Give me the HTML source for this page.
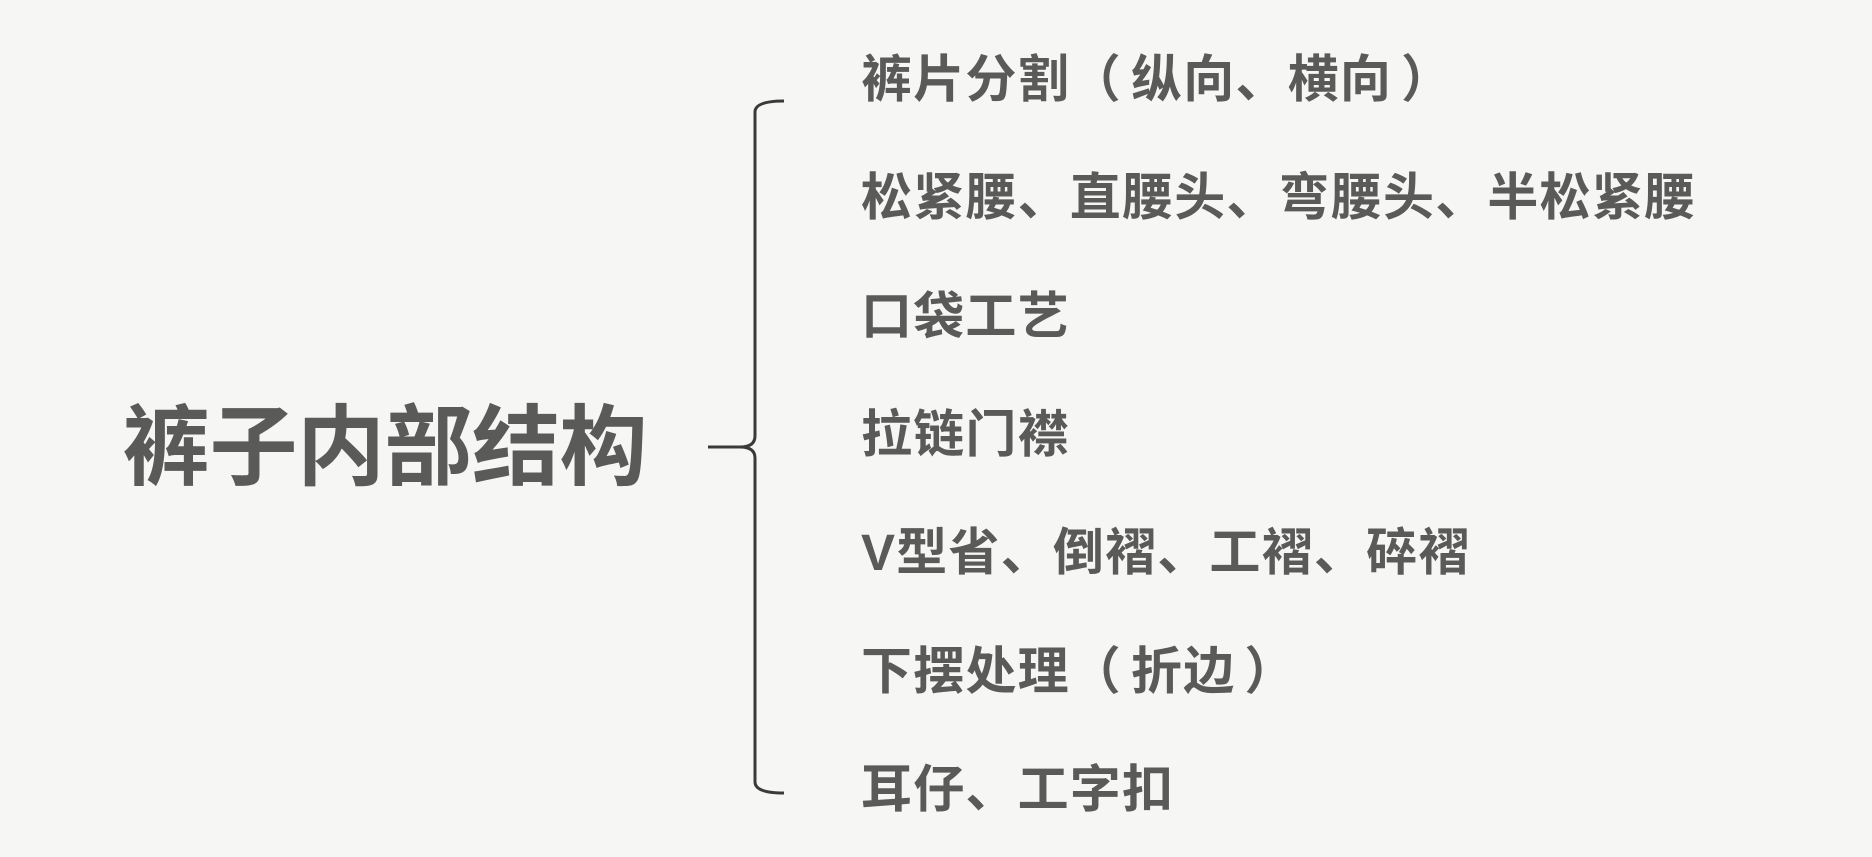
<!DOCTYPE html>
<html><head><meta charset="utf-8"><style>
html,body{margin:0;padding:0;}
body{width:1872px;height:857px;background:#f6f7f5;position:relative;overflow:hidden;font-family:"Liberation Sans","Noto Sans CJK SC",sans-serif;font-weight:bold;color:#5a5b59;}
.t{position:absolute;white-space:nowrap;line-height:1;}
.i{left:861px;font-size:51px;letter-spacing:1.2px;}
.g{display:inline-block;width:9px;}
</style></head><body>
<div class="t" style="left:122px;top:404px;font-size:88px;letter-spacing:-0.5px;">裤子内部结构</div>
<svg style="position:absolute;left:0;top:0" width="1872" height="857">
<path d="M784 101 Q755 101 755 112 L755 436 Q755 447 740 447 L708 447 M740 447 Q755 447 755 458 L755 782 Q755 793 784 793" fill="none" stroke="#3a3a3a" stroke-width="3"/>
</svg>
<div class="t i" style="top:54px;">裤片分割（<span class="g"></span>纵向、横向<span class="g"></span>）</div>
<div class="t i" style="top:172px;">松紧腰、直腰头、弯腰头、半松紧腰</div>
<div class="t i" style="top:291px;">口袋工艺</div>
<div class="t i" style="top:409px;">拉链门襟</div>
<div class="t i" style="top:527px;">V型省、倒褶、工褶、碎褶</div>
<div class="t i" style="top:646px;">下摆处理（<span class="g"></span>折边<span class="g"></span>）</div>
<div class="t i" style="top:764px;">耳仔、工字扣</div>
</body></html>
